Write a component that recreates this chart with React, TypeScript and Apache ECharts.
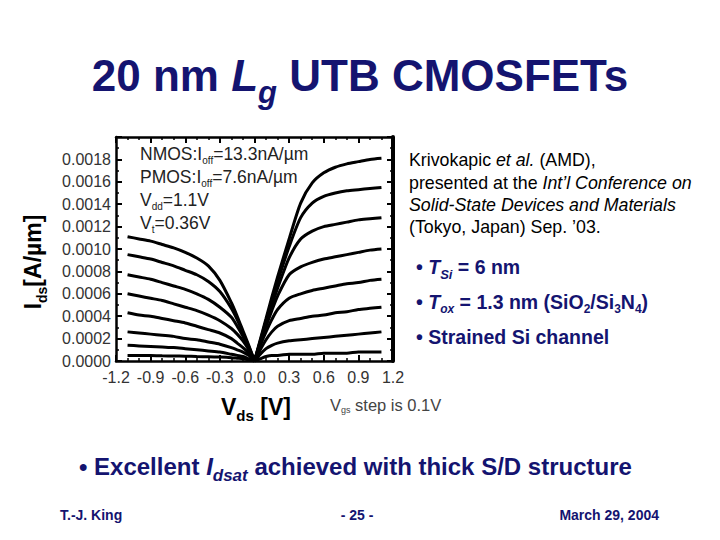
import React, { useEffect, useRef } from "react";
import * as echarts from "echarts";

// Drain current curves, NMOS (Vds >= 0) and PMOS (Vds <= 0), Ids in A/um
const vdsN = [0, 0.05, 0.1, 0.15, 0.2, 0.3, 0.4, 0.5, 0.6, 0.7, 0.8, 0.9, 1.0, 1.1];
const nmos1 = [0, 0.00019, 0.00038, 0.00057, 0.00075, 0.00109, 0.00141, 0.00159, 0.00168, 0.00173, 0.00176, 0.00178, 0.0018, 0.00181];
const nmos2 = [0, 0.00018, 0.00036, 0.00054, 0.00071, 0.00102, 0.00128, 0.00141, 0.00147, 0.0015, 0.00152, 0.00153, 0.00154, 0.00155];
const nmos3 = [0, 0.00017, 0.00034, 0.0005, 0.00065, 0.00092, 0.00109, 0.00116, 0.0012, 0.00122, 0.00124, 0.00126, 0.00127, 0.00128];
const nmos4 = [0, 0.00016, 0.00031, 0.00045, 0.00058, 0.00077, 0.00084, 0.00088, 0.00091, 0.00093, 0.00095, 0.00097, 0.00099, 0.001];
const nmos5 = [0, 0.00014, 0.00026, 0.00037, 0.00046, 0.00056, 0.0006, 0.00063, 0.00065, 0.00067, 0.00069, 0.0007, 0.00072, 0.00073];
const nmos6 = [0, 0.0001, 0.00019, 0.00026, 0.00031, 0.00036, 0.00038, 0.0004, 0.00041, 0.00043, 0.00044, 0.00046, 0.00047, 0.00048];
const nmos7 = [0, 0.00006, 0.00011, 0.00014, 0.00016, 0.00018, 0.00019, 0.0002, 0.00021, 0.00022, 0.00023, 0.00024, 0.00025, 0.00026];
const nmos8 = [0, 0.00002, 0.00004, 0.00005, 0.00005, 0.00006, 0.00006, 0.00006, 0.00007, 0.00007, 0.00007, 0.00008, 0.00008, 0.00008];

const vdsP = [-1.1, -1.0, -0.9, -0.8, -0.7, -0.6, -0.5, -0.4, -0.3, -0.2, -0.15, -0.1, -0.05, 0];
const pmos1 = [0.00111, 0.00109, 0.00107, 0.00104, 0.00101, 0.00097, 0.00092, 0.00085, 0.00072, 0.00052, 0.0004, 0.00027, 0.00014, 0];
const pmos2 = [0.00095, 0.00093, 0.00091, 0.00088, 0.00085, 0.00081, 0.00077, 0.00071, 0.00062, 0.00047, 0.00037, 0.00025, 0.00013, 0];
const pmos3 = [0.00077, 0.00075, 0.00073, 0.0007, 0.00067, 0.00064, 0.0006, 0.00055, 0.00048, 0.00039, 0.00031, 0.00022, 0.00012, 0];
const pmos4 = [0.0006, 0.00058, 0.00056, 0.00054, 0.00051, 0.00048, 0.00045, 0.00041, 0.00036, 0.00029, 0.00024, 0.00018, 0.0001, 0];
const pmos5 = [0.00043, 0.00041, 0.0004, 0.00038, 0.00036, 0.00034, 0.00031, 0.00028, 0.00025, 0.0002, 0.00016, 0.00012, 0.00007, 0];
const pmos6 = [0.00026, 0.00025, 0.00024, 0.00023, 0.00022, 0.0002, 0.00019, 0.00017, 0.00015, 0.00012, 0.0001, 0.00008, 0.00005, 0];
const pmos7 = [0.00014, 0.000135, 0.00013, 0.000125, 0.00012, 0.00011, 0.0001, 0.00009, 0.00008, 0.00006, 0.00005, 0.00004, 0.00002, 0];
const pmos8 = [0.00005, 0.00005, 0.000048, 0.000046, 0.000045, 0.000043, 0.00004, 0.000038, 0.000035, 0.00003, 0.000025, 0.00002, 0.00001, 0];

const nmosCurves = [nmos1, nmos2, nmos3, nmos4, nmos5, nmos6, nmos7, nmos8];
const pmosCurves = [pmos1, pmos2, pmos3, pmos4, pmos5, pmos6, pmos7, pmos8];

const xTicks = { min: -1.2, max: 1.2, interval: 0.3 };
const yTicks = { min: 0, max: 0.002, interval: 0.0002 };

const NAVY = "#141470";
const SANS = "Liberation Sans, Arial, sans-serif";

function richText(
  x: number,
  y: number,
  text: string,
  size: number,
  opts: { weight?: string; fill?: string; align?: string; sub?: number; rotation?: number; vAlign?: string } = {}
) {
  const weight = opts.weight || "normal";
  const fill = opts.fill || "#000";
  const sub = opts.sub || Math.round(size * 0.65);
  const base = { fontFamily: SANS, fontWeight: weight, fill, verticalAlign: "top" as const };
  return {
    type: "text",
    x,
    y,
    rotation: opts.rotation || 0,
    silent: true,
    style: {
      text,
      align: opts.align || "left",
      verticalAlign: opts.vAlign || "top",
      fontFamily: SANS,
      fontSize: size,
      fontWeight: weight,
      fill,
      rich: {
        n: { ...base, fontSize: size, lineHeight: size },
        i: { ...base, fontSize: size, lineHeight: size, fontStyle: "italic" },
        s: { ...base, fontSize: sub, lineHeight: sub, fontStyle: "italic", padding: [Math.round(size * 0.55), 0, 0, 0] },
        u: { ...base, fontSize: sub, lineHeight: sub, padding: [Math.round(size * 0.55), 0, 0, 0] },
      },
    },
  };
}

export default function App() {
  const ref = useRef<HTMLDivElement>(null);

  useEffect(() => {
    if (!ref.current) return;
    const chart = echarts.init(ref.current, undefined, { renderer: "svg" });

    const series: any[] = [];
    nmosCurves.forEach((c, k) => {
      series.push({
        type: "line",
        name: "NMOS " + (k + 1),
        data: vdsN.map((v, i) => [v, c[i]]),
        showSymbol: false,
        smooth: 0.25,
        lineStyle: { color: "#000", width: 3 },
        xAxisIndex: 0,
        yAxisIndex: 0,
      });
    });
    pmosCurves.forEach((c, k) => {
      series.push({
        type: "line",
        name: "PMOS " + (k + 1),
        data: vdsP.map((v, i) => [v, c[i]]),
        showSymbol: false,
        smooth: 0.25,
        lineStyle: { color: "#000", width: 3 },
        xAxisIndex: 0,
        yAxisIndex: 0,
      });
    });

    const axisCommon = {
      axisLine: { show: true, onZero: false, lineStyle: { color: "#000", width: 2.5 } },
      axisTick: { show: true, inside: true, length: 6, lineStyle: { color: "#000", width: 2 } },
      minorTick: { show: true, splitNumber: 2, length: 3, lineStyle: { color: "#000", width: 1.5 } },
      splitLine: { show: false },
    };

    const graphic: any[] = [
      // Title
      richText(360, 53, "{n|20 nm }{i|L}{s|g}{n| UTB CMOSFETs}", 44, { weight: "bold", fill: NAVY, align: "center", sub: 31 }),
      // Y axis name (rotated)
      richText(33, 262, "{n|I}{u|ds}{n|[A/µm]}", 23, { weight: "bold", align: "center", vAlign: "middle", rotation: Math.PI / 2, sub: 14 }),
      // X axis name
      richText(221, 395, "{n|V}{u|ds}{n| [V]}", 23, { weight: "bold", sub: 15 }),
      richText(330, 396, "{n|V}{u|gs}{n| step is 0.1V}", 16.5, { fill: "#444", sub: 9 }),
      // Annotations inside plot
      richText(140, 145, "{n|NMOS:I}{u|off}{n|=13.3nA/µm}", 17.5, { fill: "#222", sub: 10 }),
      richText(140, 168, "{n|PMOS:I}{u|off}{n|=7.6nA/µm}", 17.5, { fill: "#222", sub: 10 }),
      richText(140, 191, "{n|V}{u|dd}{n|=1.1V}", 17.5, { fill: "#222", sub: 10 }),
      richText(140, 214, "{n|V}{u|t}{n|=0.36V}", 17.5, { fill: "#222", sub: 10 }),
      // Citation
      richText(409, 151, "{n|Krivokapic }{i|et al.}{n| (AMD),}", 17.8, {}),
      richText(409, 174, "{n|presented at the }{i|Int’l Conference on}", 17.8, {}),
      richText(409, 196, "{i|Solid-State Devices and Materials}", 17.8, {}),
      richText(409, 218, "{n|(Tokyo, Japan) Sep. ’03.}", 17.8, {}),
      // Bullets
      richText(416, 257, "{n|• }{i|T}{s|Si}{n| = 6 nm}", 19.5, { weight: "bold", fill: NAVY, sub: 13 }),
      richText(416, 292, "{n|• }{i|T}{s|ox}{n| = 1.3 nm (SiO}{u|2}{n|/Si}{u|3}{n|N}{u|4}{n|)}", 19.5, { weight: "bold", fill: NAVY, sub: 12 }),
      richText(416, 327, "{n|• Strained Si channel}", 19.5, { weight: "bold", fill: NAVY }),
      // Bottom bullet
      richText(79, 454, "{n|• Excellent }{i|I}{s|dsat}{n| achieved with thick S/D structure}", 24, { weight: "bold", fill: NAVY, sub: 17 }),
      // Footer
      richText(60, 508, "{n|T.-J. King}", 14, { weight: "bold", fill: NAVY }),
      richText(357, 508, "{n|- 25 -}", 14, { weight: "bold", fill: NAVY, align: "center" }),
      richText(659, 508, "{n|March 29, 2004}", 14, { weight: "bold", fill: NAVY, align: "right" }),
    ];

    chart.setOption({
      animation: false,
      backgroundColor: "#fff",
      grid: { left: 116, right: 327, top: 137, bottom: 179 },
      xAxis: [
        {
          type: "value",
          position: "bottom",
          ...xTicks,
          ...axisCommon,
          minorTick: { ...axisCommon.minorTick, splitNumber: 3 },
          axisLabel: {
            show: true,
            margin: 8,
            fontFamily: SANS,
            fontSize: 16,
            color: "#333",
            formatter: (v: number) => v.toFixed(1),
          },
        },
        {
          type: "value",
          position: "top",
          ...xTicks,
          ...axisCommon,
          minorTick: { ...axisCommon.minorTick, splitNumber: 3 },
          axisLabel: { show: false },
        },
      ],
      yAxis: [
        {
          type: "value",
          position: "left",
          ...yTicks,
          ...axisCommon,
          axisLabel: {
            show: true,
            margin: 5,
            fontFamily: SANS,
            fontSize: 16,
            color: "#333",
            formatter: (v: number) => (v > 0.0019 ? "" : v.toFixed(4)),
          },
        },
        {
          type: "value",
          position: "right",
          ...yTicks,
          ...axisCommon,
          axisLine: { ...axisCommon.axisLine, lineStyle: { color: "#000", width: 4 } },
          axisLabel: { show: false },
        },
      ],
      series,
      graphic,
    });

    return () => chart.dispose();
  }, []);

  return (
    <div
      ref={ref}
      style={{ position: "absolute", left: 0, top: 0, width: 720, height: 540, background: "#fff" }}
    />
  );
}
